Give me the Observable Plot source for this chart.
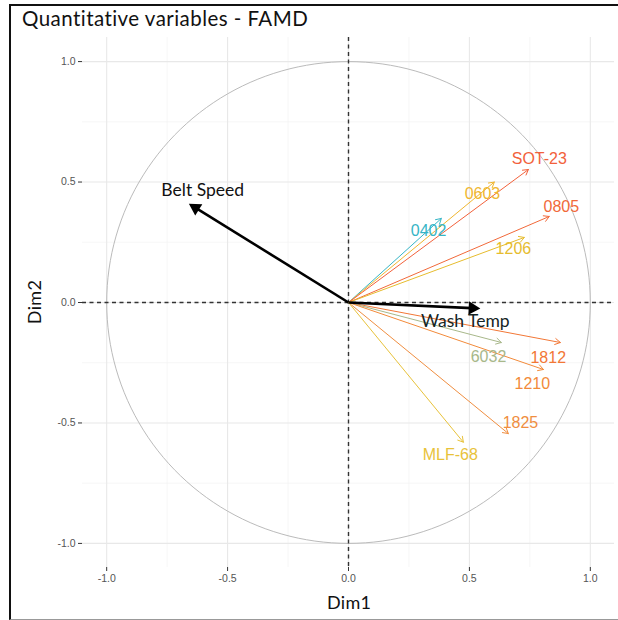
<!DOCTYPE html>
<html>
<head>
<meta charset="utf-8">
<script src="https://cdn.jsdelivr.net/npm/d3@7"></script>
<script src="https://cdn.jsdelivr.net/npm/@observablehq/plot@0.6"></script>
<style>
  html, body { margin: 0; padding: 0; background: #fff; }
  #wrap { position: relative; width: 618px; height: 620px; overflow: hidden; }
  #frame { position: absolute; left: 9px; top: 4px; width: 620px; height: 613px;
           border-top: 2px solid #111; border-left: 2px solid #111; border-bottom: 1px solid #999; }
  #title { position: absolute; left: 22px; top: 6px; font-family: Lato, sans-serif;
           font-size: 20.5px; color: #111; white-space: nowrap; letter-spacing: 0.45px; }
  .axtitle { position: absolute; font-family: Lato, sans-serif; font-size: 18px; color: #111; white-space: nowrap; letter-spacing: 0.3px; }
  #chart { position: absolute; left: 0; top: 0; }
</style>
</head>
<body>
<div id="wrap">
  <div id="chart"></div>
  <div id="frame"></div>
  <div id="title">Quantitative variables - FAMD</div>
  <div class="axtitle" id="xlab">Dim1</div>
  <div class="axtitle" id="ylab">Dim2</div>
</div>
<script>
// Coordinates of the quantitative variables on the first two FAMD dimensions
const variables = ["Belt Speed", "Wash Temp", "0402", "0603", "SOT-23", "0805", "1206",
                   "1812", "6032", "1210", "1825", "MLF-68"];
const dim1 = [-0.66, 0.545, 0.384, 0.603, 0.744, 0.83, 0.727, 0.876, 0.632, 0.806, 0.661, 0.475];
const dim2 = [0.41, -0.025, 0.349, 0.50, 0.552, 0.357, 0.27, -0.166, -0.166, -0.278, -0.544, -0.58];

// Label anchor points (repelled positions, in Dim units)
const labelDim1 = [-0.603, 0.483, 0.331, 0.554, 0.789, 0.880, 0.682, 0.826, 0.579, 0.760, 0.711, 0.421];
const labelDim2 = [0.465, -0.079, 0.299, 0.452, 0.598, 0.398, 0.224, -0.228, -0.224, -0.336, -0.498, -0.631];

const axisTicks = [-1, -0.5, 0, 0.5, 1];
const minorTicks = [-0.75, -0.25, 0.25, 0.75];

// Colour per variable (supplementary package variables in warm tones)
const palette = {
  "Belt Speed": "#000000", "Wash Temp": "#000000",
  "0402": "#35B5C6", "0603": "#EFB630", "SOT-23": "#F2613B", "0805": "#F1693A",
  "1206": "#E6BC2E", "1812": "#F27736", "6032": "#A8B88A", "1210": "#F28A3A",
  "1825": "#F08E40", "MLF-68": "#E8C23A"
};
const labelColor = { "Belt Speed": "#111", "Wash Temp": "#152525" };
const activeVars = new Set(["Belt Speed", "Wash Temp"]);

const rows = variables.map((v, i) => ({
  name: v, x: dim1[i], y: dim2[i], lx: labelDim1[i], ly: labelDim2[i],
  active: activeVars.has(v)
}));
const active = rows.filter(d => d.active);
const others = rows.filter(d => !d.active);

// Filled heads for the active variables: centre of the triangle sits a little behind the tip
const headBack = 0.032;
const heads = active.map(d => {
  const len = Math.hypot(d.x, d.y);
  const ux = d.x / len, uy = d.y / len;
  return { ...d, hx: d.x - ux * headBack, hy: d.y - uy * headBack,
           ex: d.x - ux * 0.035, ey: d.y - uy * 0.035,
           rot: Math.atan2(d.x, d.y) * 180 / Math.PI };
});

// Unit correlation circle
const circle = d3.range(0, 361, 2).map(a => ({ x: Math.cos(a * Math.PI / 180), y: Math.sin(a * Math.PI / 180) }));

const plot = Plot.plot({
  width: 618, height: 620,
  marginLeft: 82, marginRight: 4, marginTop: 37, marginBottom: 53,
  x: { domain: [-1.1, 1.1], ticks: axisTicks, tickFormat: d => d.toFixed(1), label: null, tickSize: 4, tickPadding: 3 },
  y: { domain: [-1.1, 1.1], ticks: axisTicks, tickFormat: d => d.toFixed(1), label: null, tickSize: 4, tickPadding: 3 },
  style: { fontFamily: "'Liberation Sans', Arial, sans-serif", fontSize: "10.5px", color: "#333", background: "transparent" },
  marks: [
    Plot.ruleX(minorTicks, { stroke: "#F3F3F3", strokeWidth: 0.7 }),
    Plot.ruleY(minorTicks, { stroke: "#F3F3F3", strokeWidth: 0.7 }),
    Plot.ruleX(axisTicks, { stroke: "#E8E8E8", strokeWidth: 1.1 }),
    Plot.ruleY(axisTicks, { stroke: "#E8E8E8", strokeWidth: 1.1 }),
    Plot.line(circle, { x: "x", y: "y", stroke: "#BBBBBB", strokeWidth: 1, curve: "linear" }),
    Plot.ruleX([0], { stroke: "#333", strokeWidth: 1.4, strokeDasharray: "4,3.5" }),
    Plot.ruleY([0], { stroke: "#333", strokeWidth: 1.4, strokeDasharray: "4,3.5" }),
    Plot.arrow(others, { x1: 0, y1: 0, x2: "x", y2: "y", stroke: d => palette[d.name], strokeWidth: 1, headLength: 9, headAngle: 60 }),
    Plot.link(heads, { x1: 0, y1: 0, x2: "ex", y2: "ey", stroke: "#000", strokeWidth: 2.6 }),
    Plot.dot(heads, { x: "hx", y: "hy", symbol: "triangle", r: 5, fill: "#000", stroke: "none", rotate: "rot" }),
    Plot.text(others, { x: "lx", y: "ly", text: "name", fill: d => palette[d.name], fontSize: 16,
                        fontFamily: "'Liberation Sans', Arial, sans-serif", lineAnchor: "middle", textAnchor: "middle" }),
    Plot.text(active, { x: "lx", y: "ly", text: "name", fill: d => labelColor[d.name], fontSize: 17.5,
                        fontFamily: "Lato, sans-serif", lineAnchor: "middle", textAnchor: "middle", letterSpacing: 0.4 })
  ]
});

// Grey tick labels, dark tick marks
plot.querySelectorAll('g[aria-label*="axis"] text').forEach(t => t.setAttribute("fill", "#555"));
document.getElementById("chart").appendChild(plot);

// Axis titles placed from the same scales
const sx = plot.scale("x"), sy = plot.scale("y");
const xlab = document.getElementById("xlab");
xlab.style.left = (sx.apply(0) - 21) + "px";
xlab.style.top = "591px";
const ylab = document.getElementById("ylab");
ylab.style.left = "12px";
ylab.style.top = (sy.apply(0) - 11) + "px";
ylab.style.transform = "rotate(-90deg)";
</script>
</body>
</html>
